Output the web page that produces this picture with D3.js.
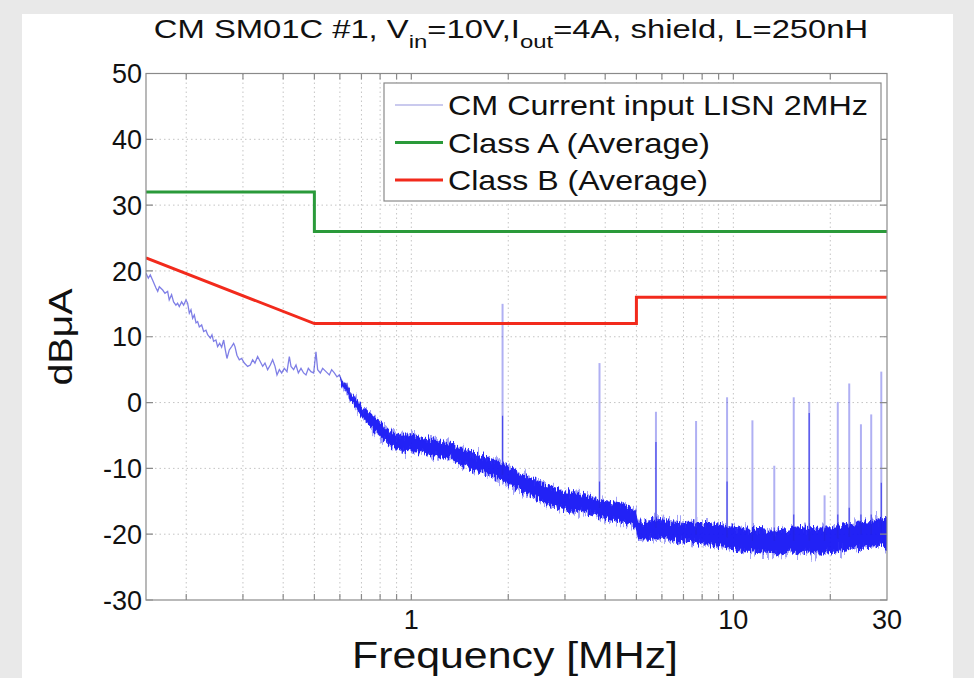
<!DOCTYPE html>
<meta charset="utf-8">
<style>
  body { margin: 0; background: #e9e9e9; }
  svg { display: block; }
</style>
<svg width="974" height="678" font-family="Liberation Sans, Arial, sans-serif"></svg>
<script src="https://cdn.jsdelivr.net/npm/d3@7"></script>
<script>

// limit lines (MHz, dBuA)
var classAF = [0.15, 0.5, 0.5, 30];
var classAV = [32, 32, 26, 26];
var classBF = [0.15, 0.5, 5, 5, 30];
var classBV = [22, 12, 12, 16, 16];

var traceF = [0.150, 0.1525, 0.1547, 0.1573, 0.1611, 0.1631, 0.1650, 0.1690, 0.1718, 0.1751,
              0.1771, 0.1801, 0.1827, 0.1858, 0.1880, 0.1903, 0.1935, 0.1963, 0.1996, 0.2020,
              0.2045, 0.2069, 0.2094, 0.2119, 0.2145, 0.2170, 0.2196, 0.2233, 0.2265, 0.2303,
              0.2331, 0.2376, 0.2404, 0.2432, 0.2473, 0.2503, 0.2540, 0.2576, 0.2614, 0.2645,
              0.2676, 0.2721, 0.2767, 0.2807, 0.2834, 0.2874, 0.2923, 0.2972, 0.3030, 0.3102,
              0.3162, 0.3215, 0.3269, 0.3332, 0.3397, 0.3454, 0.3512, 0.3579, 0.3648, 0.3710,
              0.3773, 0.3827, 0.3892, 0.3957, 0.4033, 0.4111, 0.4180, 0.4230, 0.4311, 0.4384,
              0.4458, 0.4544, 0.4630, 0.4709, 0.4788, 0.4880, 0.4974, 0.5057, 0.5118, 0.5217,
              0.5305, 0.5433, 0.5564, 0.5657, 0.5766, 0.5876, 0.5976, 0.6076, 0.6193, 0.6300,
              0.6420, 0.6550];
var traceV = [19.65, 18.9, 19.4, 18.6, 17.4, 16.9, 17.6, 17.1, 16.6, 16.9,
              15.6, 16.4, 15.3, 14.8, 15.1, 14.6, 15.3, 14.8, 15.6, 15.1,
              13.6, 14.1, 12.8, 13.3, 12.1, 12.3, 11.5, 11.8, 10.8, 11.0,
              10.3, 9.8, 10.3, 9.3, 9.5, 8.5, 9.0, 8.4, 9.5, 8.0,
              6.7, 8.0, 8.5, 9.0, 8.5, 7.2, 6.5, 6.7, 6.0, 5.5,
              5.7, 6.5, 6.0, 7.0, 6.2, 5.5, 6.0, 5.0, 5.7, 6.5,
              5.5, 4.2, 5.0, 4.5, 5.2, 4.7, 7.0, 5.5, 5.0, 5.7,
              4.5, 5.2, 4.5, 4.2, 5.2, 4.7, 4.5, 7.7, 5.0, 4.5,
              5.2, 4.7, 4.2, 5.0, 4.5, 3.9, 4.2, 3.4, 2.7, 2.9,
              1.6, 1.2];

// dense noisy band of the trace: upper / lower edge
var bandF  = [0.602, 0.647, 0.694, 0.746, 0.801, 0.861, 0.924, 0.993, 1.066, 1.146,
              1.231, 1.322, 1.420, 1.525, 1.638, 1.759, 1.890, 2.030, 2.180, 2.342,
              2.515, 2.702, 2.902, 3.117, 3.348, 3.596, 3.863, 4.150, 4.457, 4.787,
              4.95, 5.07, 5.524, 5.933, 6.372, 6.844, 7.353, 7.897, 8.483, 9.112,
              9.788, 10.51, 11.29, 12.13, 13.03, 14.0, 15.03, 16.15, 17.34, 18.63,
              20.01, 21.49, 23.09, 24.80, 26.64, 28.61, 30];
var bandHi = [3.8, 1.6, -0.3, -1.7, -2.9, -4.2, -4.9, -4.8, -5.2, -5.5,
              -5.8, -6.1, -6.8, -7.5, -7.9, -8.4, -9.1, -9.9, -10.7, -11.3,
              -12.1, -12.8, -13.3, -13.7, -13.9, -14.3, -14.8, -15.1, -15.3, -15.8,
              -16.1, -18.1, -17.9, -17.7, -18.0, -18.2, -18.1, -18.3, -18.3, -18.6,
              -18.8, -19.0, -19.2, -19.2, -19.4, -19.4, -19.1, -18.9, -19.1, -19.0,
              -19.0, -18.7, -18.5, -18.2, -18.0, -17.7, -17.3];
var bandLo = [3.0, 0.2, -1.8, -3.7, -5.2, -6.7, -7.3, -7.4, -7.6, -8.0,
              -8.3, -8.5, -9.5, -10.1, -10.6, -11.1, -11.7, -12.5, -13.5, -14.2,
              -15.0, -15.5, -16.0, -16.6, -16.6, -17.0, -17.5, -17.9, -18.2, -18.6,
              -18.9, -20.7, -20.9, -20.6, -20.9, -21.3, -21.2, -21.5, -21.7, -22.0,
              -22.2, -22.5, -22.7, -22.9, -23.0, -23.1, -22.8, -22.9, -22.8, -23.0,
              -22.7, -22.5, -22.2, -22.1, -21.9, -21.7, -22.1];

// narrow spectral lines
var spikeF    = [1.92, 3.84, 5.75, 7.66, 9.56, 11.46, 13.4, 15.4, 17.2, 19.2, 21.1, 22.9, 24.9, 26.8, 28.8];
var spikeTop  = [15.0, 6.0, -1.4, -2.8, 0.8, -2.7, -9.6, 0.8, 0.1, -14.1, 0.1, 2.9, -3.3, -1.8, 4.7];
var spikeMid  = [-2.0, -12.0, -6.0, -19.0, -12.0, -19.0, -19.0, -17.0, -1.6, -19.0, -17.0, -16.0, -17.0, -17.0, -12.2];
var spikeBase = [-11, -16, -19, -20, -20.5, -21, -21, -21, -21, -21, -20.6, -20.4, -20, -20, -19.8];

var gridF = [0.2, 0.3, 0.4, 0.5, 0.6, 0.7, 0.8, 0.9, 1, 2, 3, 4, 5, 6, 7, 8, 9, 10, 20];
var xTicks = [1, 10, 30];
var yTicks = [-30, -20, -10, 0, 10, 20, 30, 40, 50];

var legendNames = ["CM Current input LISN 2MHz", "Class A (Average)", "Class B (Average)"];
var legendLen = [420, 262, 260];

var pLeft = 146, pRight = 887, pTop = 73.5, pBottom = 600;

var svg = d3.select("svg");

var x = d3.scaleLog().domain([0.15, 30]).range([pLeft, pRight]);
var y = d3.scaleLinear().domain([-30, 50]).range([pBottom, pTop]);

// white page
svg.append("rect").attr("x", 22).attr("y", 14).attr("width", 931).attr("height", 670).attr("fill", "#fff");

var defs = svg.append("defs");
defs.append("clipPath").attr("id", "clip")
  .append("rect").attr("x", pLeft).attr("y", pTop).attr("width", pRight - pLeft).attr("height", pBottom - pTop);

// texture so the dense band looks like a sampled spectrum (vertical jitter only)
function fuzz(id, seed, freq, scale) {
  var f = defs.append("filter").attr("id", id)
      .attr("x", "-2%").attr("y", "-30%").attr("width", "104%").attr("height", "160%");
  f.append("feTurbulence").attr("type", "fractalNoise").attr("baseFrequency", freq)
      .attr("numOctaves", 2).attr("seed", seed).attr("result", "n");
  f.append("feColorMatrix").attr("in", "n").attr("type", "matrix")
      .attr("values", "0 0 0 0 0.5  0 1 0 0 0  0 0 1 0 0  0 0 0 0 1").attr("result", "m");
  f.append("feDisplacementMap").attr("in", "SourceGraphic").attr("in2", "m")
      .attr("scale", scale).attr("xChannelSelector", "R").attr("yChannelSelector", "G");
}
fuzz("fuzzA", 3, "0.45 0.04", 26);
fuzz("fuzzB", 11, "0.6 0.05", 14);

// grid
var grid = svg.append("g").attr("stroke", "#c4c4c4").attr("stroke-dasharray", "1.5,3").attr("stroke-width", 1);
grid.selectAll(".gx").data(gridF).enter().append("line")
    .attr("x1", function(d) { return x(d); }).attr("x2", function(d) { return x(d); })
    .attr("y1", pTop).attr("y2", pBottom);
grid.selectAll(".gy").data(yTicks.slice(1, -1)).enter().append("line")
    .attr("y1", function(d) { return y(d); }).attr("y2", function(d) { return y(d); })
    .attr("x1", pLeft).attr("x2", pRight);

var plot = svg.append("g").attr("clip-path", "url(#clip)");

// measured trace
var bandArea = d3.area()
    .x(function(d, i) { return x(bandF[i]); })
    .y0(function(d, i) { return y(bandLo[i]); })
    .y1(function(d, i) { return y(bandHi[i]); });

plot.append("path")
    .attr("d", bandArea(bandF))
    .attr("filter", "url(#fuzzA)")
    .attr("fill", "#5a5aee")
    .attr("fill-opacity", 0.55);

plot.append("path")
    .attr("d", bandArea(bandF))
    .attr("filter", "url(#fuzzB)")
    .attr("fill", "#1a1af6")
    .attr("fill-opacity", 0.92);

plot.append("path")
    .attr("d", d3.line()
        .x(function(d, i) { return x(traceF[i]); })
        .y(function(d, i) { return y(traceV[i]); })(traceF))
    .attr("fill", "none")
    .attr("stroke", "#3a3ad8")
    .attr("stroke-opacity", 0.65)
    .attr("stroke-width", 1.3);

var spikes = plot.append("g");
spikes.selectAll(".s1").data(spikeF).enter().append("line")
    .attr("x1", function(d) { return x(d); }).attr("x2", function(d) { return x(d); })
    .attr("y1", function(d, i) { return y(spikeBase[i]); })
    .attr("y2", function(d, i) { return y(spikeTop[i]); })
    .attr("stroke", "#3030e0").attr("stroke-opacity", 0.38).attr("stroke-width", 2);
spikes.selectAll(".s2").data(spikeF).enter().append("line")
    .attr("x1", function(d) { return x(d); }).attr("x2", function(d) { return x(d); })
    .attr("y1", function(d, i) { return y(spikeBase[i]); })
    .attr("y2", function(d, i) { return y(spikeMid[i]); })
    .attr("stroke", "#2020e8").attr("stroke-opacity", 0.7).attr("stroke-width", 1.2);

// limits
var lim = d3.line();
plot.append("path")
    .attr("d", lim(classAF.map(function(f, i) { return [x(f), y(classAV[i])]; })))
    .attr("fill", "none").attr("stroke", "#2a9a3a").attr("stroke-width", 3);
plot.append("path")
    .attr("d", lim(classBF.map(function(f, i) { return [x(f), y(classBV[i])]; })))
    .attr("fill", "none").attr("stroke", "#f22a1c").attr("stroke-width", 3);

// axes box and ticks
var ax = svg.append("g").attr("stroke", "#8a8a8a").attr("stroke-width", 1.2).attr("fill", "none");
ax.append("rect").attr("x", pLeft).attr("y", pTop).attr("width", pRight - pLeft).attr("height", pBottom - pTop);
ax.selectAll(".tb").data(gridF).enter().append("path")
    .attr("d", function(d) { return "M" + x(d) + "," + pBottom + "v-6M" + x(d) + "," + pTop + "v6"; });
ax.selectAll(".tl").data(yTicks).enter().append("path")
    .attr("d", function(d) { return "M" + pLeft + "," + y(d) + "h7M" + pRight + "," + y(d) + "h-7"; });

svg.selectAll(".ylab").data(yTicks).enter().append("text")
    .attr("x", pLeft - 4).attr("y", function(d) { return y(d); })
    .attr("dy", "0.36em").attr("text-anchor", "end")
    .attr("font-size", 27).attr("fill", "#111")
    .text(function(d) { return d; });

svg.selectAll(".xlab").data(xTicks).enter().append("text")
    .attr("x", function(d) { return x(d); }).attr("y", 629)
    .attr("text-anchor", "middle")
    .attr("font-size", 27).attr("fill", "#111")
    .text(function(d) { return d; });

svg.append("text")
    .attr("x", 515).attr("y", 668).attr("text-anchor", "middle")
    .attr("font-size", 36).attr("fill", "#111")
    .attr("textLength", 326).attr("lengthAdjust", "spacingAndGlyphs")
    .text("Frequency [MHz]");

svg.append("text")
    .attr("transform", "translate(72,337)rotate(-90)")
    .attr("text-anchor", "middle")
    .attr("font-size", 33).attr("fill", "#111")
    .attr("textLength", 97).attr("lengthAdjust", "spacingAndGlyphs")
    .text("dBμA");

// title, stretched a little sideways like the original export
var title = svg.append("text")
    .attr("transform", "translate(511,38)scale(1.26,1)")
    .attr("text-anchor", "middle")
    .attr("font-size", 26).attr("fill", "#111");
title.append("tspan").text("CM SM01C #1, V");
title.append("tspan").attr("dy", 10).attr("font-size", 19).text("in");
title.append("tspan").attr("dy", -10).text("=10V,I");
title.append("tspan").attr("dy", 10).attr("font-size", 19).text("out");
title.append("tspan").attr("dy", -10).text("=4A, shield, L=250nH");

// legend
var legend = svg.append("g");
legend.append("rect").attr("x", 384).attr("y", 83).attr("width", 497).attr("height", 118)
    .attr("fill", "#fff").attr("stroke", "#8a8a8a").attr("stroke-width", 1.2);
var legendColor = ["#b8b8e8", "#2a9a3a", "#f22a1c"];
var legendW = [1.5, 3, 3];
var row = legend.selectAll(".row").data(legendNames).enter().append("g")
    .attr("transform", function(d, i) { return "translate(0," + (105 + i * 37.5) + ")"; });
row.append("line").attr("x1", 395).attr("x2", 443)
    .attr("stroke", function(d, i) { return legendColor[i]; })
    .attr("stroke-width", function(d, i) { return legendW[i]; });
row.append("text").attr("x", 448).attr("y", 10)
    .attr("font-size", 28).attr("fill", "#111")
    .attr("textLength", function(d, i) { return legendLen[i]; })
    .attr("lengthAdjust", "spacingAndGlyphs")
    .text(function(d) { return d; });

</script>
